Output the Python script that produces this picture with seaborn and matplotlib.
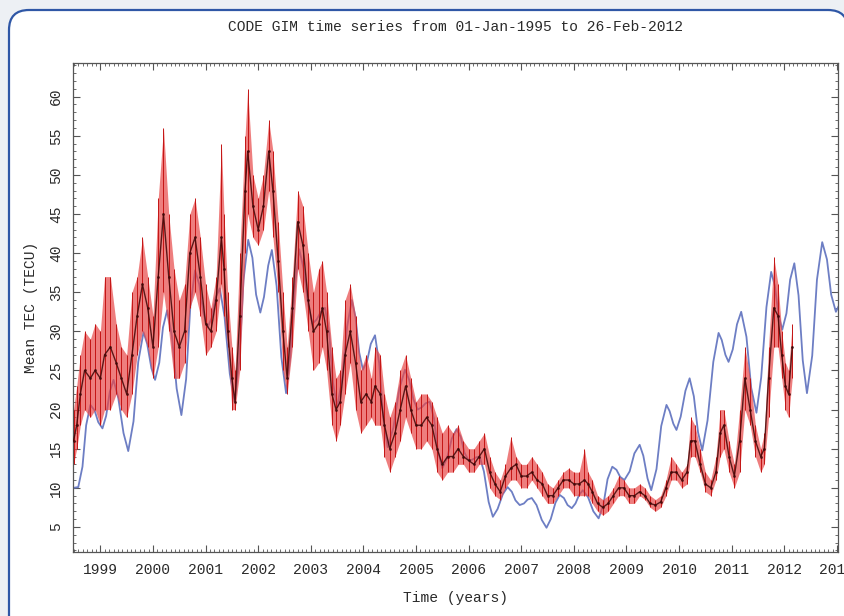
import matplotlib
matplotlib.use("Agg")
import matplotlib.pyplot as plt
import seaborn as sns
from matplotlib.patches import FancyBboxPatch
from matplotlib.ticker import MultipleLocator

# CODE GIM mean TEC: daily values shown as a band (low/high) with a dark centre line
red_t = [1998.49, 1998.55, 1998.62, 1998.70, 1998.81, 1998.90, 1999.00, 1999.08, 1999.19, 1999.30,
         1999.40, 1999.50, 1999.60, 1999.70, 1999.80, 1999.90, 2000.00, 2000.10, 2000.20, 2000.30,
         2000.40, 2000.50, 2000.60, 2000.70, 2000.80, 2000.90, 2001.00, 2001.10, 2001.20, 2001.30,
         2001.35, 2001.42, 2001.50, 2001.56, 2001.65, 2001.75, 2001.80, 2001.90, 2002.00, 2002.10,
         2002.20, 2002.28, 2002.38, 2002.47, 2002.55, 2002.65, 2002.75, 2002.85, 2002.95, 2003.05,
         2003.15, 2003.22, 2003.30, 2003.40, 2003.48, 2003.56, 2003.65, 2003.75, 2003.85, 2003.95,
         2004.05, 2004.15, 2004.22, 2004.32, 2004.40, 2004.50, 2004.60, 2004.70, 2004.80, 2004.90,
         2005.00, 2005.10, 2005.20, 2005.30, 2005.40, 2005.50, 2005.60, 2005.70, 2005.80, 2005.90,
         2006.00, 2006.10, 2006.20, 2006.30, 2006.40, 2006.50, 2006.60, 2006.70, 2006.80, 2006.90,
         2007.00, 2007.10, 2007.20, 2007.30, 2007.40, 2007.50, 2007.60, 2007.70, 2007.80, 2007.90,
         2008.00, 2008.10, 2008.20, 2008.27, 2008.35, 2008.45, 2008.55, 2008.65, 2008.75, 2008.85,
         2008.95, 2009.05, 2009.15, 2009.25, 2009.35, 2009.45, 2009.55, 2009.65, 2009.75, 2009.85,
         2009.95, 2010.05, 2010.15, 2010.22, 2010.30, 2010.40, 2010.50, 2010.60, 2010.70, 2010.78,
         2010.85, 2010.95, 2011.05, 2011.15, 2011.25, 2011.35, 2011.45, 2011.55, 2011.62, 2011.70,
         2011.80, 2011.88, 2011.95, 2012.02, 2012.08, 2012.15]
red_lo = [13, 15, 18, 20, 19, 20, 18, 20, 20, 22,
          20, 19, 22, 27, 30, 28, 24, 28, 35, 30,
          24, 24, 26, 33, 35, 32, 27, 28, 30, 36,
          32, 28, 20, 20, 25, 40, 45, 42, 41, 43,
          48, 42, 35, 25, 22, 28, 38, 35, 30, 25,
          26, 28, 25, 18, 16, 18, 22, 26, 20, 17,
          18, 19, 18, 18, 14, 12, 14, 16, 19, 17,
          15, 15, 16, 15, 12, 11, 12, 12, 13, 13,
          12, 12, 13, 13, 10, 9, 8.5, 10, 11, 11,
          10, 10, 11, 10, 9, 8, 8, 9, 10, 10,
          9, 9, 9, 9, 8, 7, 6.5, 7, 8, 9,
          9, 8, 8, 9, 8.5, 7.5, 7, 7.5, 9, 11,
          11, 10, 10.5, 14, 14, 12, 9.5, 9, 11, 14,
          15, 12, 10, 12, 20, 18, 14, 12, 13, 19,
          28, 28, 24, 20, 19, 24]
red_hi = [20, 23, 27, 30, 29, 31, 30, 37, 37, 31,
          28, 27, 35, 37, 42, 37, 32, 47, 56, 45,
          38, 34, 36, 45, 47, 42, 36, 33, 37, 54,
          45, 35, 28, 25, 40, 55, 61, 50, 47, 50,
          57, 53, 44, 35, 28, 37, 48, 46, 40, 35,
          38, 39, 35, 28, 24, 25, 34, 36, 32, 25,
          27, 24, 28, 27, 22, 19, 21, 25, 27, 24,
          21, 22, 22, 21, 19, 17, 18, 17, 18, 16,
          15, 15, 16, 17, 14, 12, 11, 13, 16.5, 14,
          13, 13, 14, 13, 12, 10.5, 10, 11, 12, 12.5,
          12, 12, 15, 12, 11, 9, 8.5, 9, 10, 11.5,
          11, 10, 10, 10.5, 10, 9, 8.5, 9, 11, 14,
          13, 12, 13, 19, 18, 15, 12, 11, 14, 20,
          20, 16, 13, 20, 28, 24, 18, 15, 17, 28,
          39.5, 36, 30, 26, 25, 31]
red_mid = [16, 18, 22, 25, 24, 25, 24, 27, 28, 26,
           24, 22, 27, 32, 36, 33, 28, 37, 45, 37,
           30, 28, 30, 40, 42, 37, 31, 30, 34, 42,
           38, 30, 24, 21, 32, 48, 53, 46, 43, 46,
           53, 48, 39, 30, 24, 33, 44, 41, 34, 30,
           31, 33, 30, 22, 20, 21, 27, 30, 26, 21,
           22, 21, 23, 22, 18, 15, 17, 20, 23, 20,
           18, 18, 19, 18, 15, 13, 14, 14, 15, 14,
           13.5, 13, 14, 15, 12, 10.5, 9.5, 11.5, 12.5, 13,
           11.5, 11.5, 12, 11, 10.5, 9, 9, 10, 11, 11,
           10.5, 10.5, 11, 10.5, 9.5, 8, 7.5, 8, 9, 10,
           10, 9, 9, 9.5, 9, 8, 7.8, 8.2, 10, 12,
           12, 11, 12, 16, 16, 13, 10.5, 10, 12, 17,
           18, 14, 11.5, 16, 24, 20, 16, 14, 15, 24,
           33, 32, 27, 23, 22, 28]

# smooth model curve (blue)
blue_t = [1998.49, 1998.58, 1998.66, 1998.73, 1998.81, 1998.89, 1998.96, 1999.04, 1999.11, 1999.18,
          1999.25, 1999.34, 1999.44, 1999.53, 1999.63, 1999.72, 1999.82, 1999.89, 1999.97, 2000.04,
          2000.12, 2000.19, 2000.27, 2000.36, 2000.45, 2000.54, 2000.63, 2000.71, 2000.80, 2000.88,
          2000.96, 2001.04, 2001.12, 2001.19, 2001.27, 2001.36, 2001.46, 2001.55, 2001.64, 2001.72,
          2001.81, 2001.89, 2001.96, 2002.04, 2002.11, 2002.19, 2002.26, 2002.35, 2002.44, 2002.53,
          2002.61, 2002.70, 2002.78, 2002.86, 2002.95, 2003.03, 2003.11, 2003.19, 2003.27, 2003.35,
          2003.42, 2003.50, 2003.59, 2003.69, 2003.78, 2003.85, 2003.92, 2003.99, 2004.07, 2004.14,
          2004.22, 2004.30, 2004.38, 2004.46, 2004.57, 2004.68, 2004.79, 2004.87, 2004.95, 2005.03,
          2005.11, 2005.18, 2005.26, 2005.34, 2005.42, 2005.50, 2005.59, 2005.68, 2005.77, 2005.85,
          2005.92, 2006.00, 2006.07, 2006.14, 2006.21, 2006.29, 2006.38, 2006.46, 2006.55, 2006.65,
          2006.74, 2006.82, 2006.89, 2006.97, 2007.05, 2007.12, 2007.20, 2007.29, 2007.39, 2007.48,
          2007.56, 2007.65, 2007.73, 2007.81, 2007.88, 2007.96, 2008.03, 2008.10, 2008.17, 2008.27,
          2008.37, 2008.47, 2008.56, 2008.64, 2008.73, 2008.81, 2008.88, 2008.96, 2009.06, 2009.15,
          2009.25, 2009.32, 2009.40, 2009.47, 2009.57, 2009.66, 2009.76, 2009.82, 2009.89, 2009.95,
          2010.03, 2010.12, 2010.20, 2010.28, 2010.36, 2010.44, 2010.54, 2010.65, 2010.75, 2010.81,
          2010.88, 2010.94, 2011.02, 2011.10, 2011.18, 2011.28, 2011.37, 2011.47, 2011.56, 2011.66,
          2011.75, 2011.82, 2011.89, 2011.96, 2012.04, 2012.11, 2012.19, 2012.27, 2012.35, 2012.43,
          2012.53, 2012.62, 2012.72, 2012.81, 2012.89, 2012.98, 2013.03]
blue_v = [10.0, 10.1, 12.7, 18.0, 20.6, 19.9, 18.4, 17.6, 19.2, 22.3,
          23.8, 21.5, 17.0, 14.7, 18.5, 26.1, 29.9, 28.4, 25.3, 23.8,
          26.0, 30.5, 32.7, 29.4, 22.7, 19.3, 23.9, 33.2, 37.8, 36.0,
          32.3, 30.5, 31.8, 34.3, 35.5, 31.9, 24.6, 21.0, 26.2, 36.5,
          41.7, 39.4, 34.7, 32.4, 34.4, 38.4, 40.4, 35.8, 26.7, 22.1,
          26.7, 35.9, 40.5, 38.1, 33.4, 31.0, 31.5, 32.5, 33.0, 29.8,
          23.5, 20.3, 23.7, 30.6, 34.0, 31.8, 27.3, 25.1, 26.2, 28.4,
          29.5, 25.9, 18.8, 15.2, 17.7, 22.6, 25.1, 23.8, 21.3, 20.0,
          20.3, 20.8, 21.0, 18.9, 14.6, 12.5, 13.8, 16.3, 17.5, 16.5,
          14.5, 13.5, 13.6, 13.9, 14.0, 12.1, 8.2, 6.3, 7.3, 9.2,
          10.1, 9.5, 8.4, 7.8, 8.0, 8.5, 8.7, 7.8, 5.9, 4.9,
          6.0, 8.1, 9.1, 8.7, 7.8, 7.4, 8.0, 9.1, 9.7, 8.8,
          7.0, 6.1, 7.8, 11.1, 12.7, 12.3, 11.4, 11.0, 12.1, 14.4,
          15.5, 14.1, 11.2, 9.7, 12.4, 17.9, 20.6, 19.8, 18.2, 17.4,
          19.1, 22.4, 24.0, 21.7, 17.1, 14.8, 18.6, 26.1, 29.8, 28.9,
          27.0, 26.1, 27.7, 30.9, 32.5, 29.3, 22.8, 19.6, 24.1, 33.1,
          37.6, 35.8, 32.1, 30.2, 32.3, 36.6, 38.7, 34.6, 26.3, 22.1,
          26.9, 36.6, 41.4, 39.2, 34.7, 32.5, 33.2]

year_ticks = list(range(1999, 2014))
tec_ticks = list(range(5, 65, 5))

sns.set_style("ticks")
plt.rcParams['font.family'] = ['Liberation Mono', 'DejaVu Sans Mono']
text_color = '#2a2a2a'

fig = plt.figure(figsize=(8.45, 6.16), dpi=100)
fig.patch.set_facecolor('#edf0f4')
# rounded white panel with blue border, kept behind the axes
panel = FancyBboxPatch((0.09, -0.6), 8.39, 6.66, boxstyle="round,pad=0,rounding_size=0.2",
                       transform=fig.dpi_scale_trans, facecolor='white',
                       edgecolor='#2f57a6', linewidth=1.6, zorder=-10)
fig.patches.append(panel)

ax = fig.add_axes([73 / 845, 1 - 552 / 616, (838 - 73) / 845, (552 - 63) / 616])
ax.set_zorder(5)
ax.set_facecolor('white')

sns.lineplot(x=blue_t, y=blue_v, estimator=None, color='#6d7ec4', linewidth=1.3, ax=ax, zorder=2)
ax.fill_between(red_t, red_lo, red_hi, color='#e84848', alpha=0.7, linewidth=0, zorder=3)
ax.vlines(red_t, red_lo, red_hi, color='#c41414', linewidth=0.7, zorder=4)
sns.lineplot(x=red_t, y=red_mid, estimator=None, color='#3e0606', linewidth=1.0, alpha=0.85,
             marker='o', markersize=2, markeredgewidth=0, ax=ax, zorder=5)

ax.set_xlim(1998.48, 2013.02)
ax.set_ylim(1.8, 64.3)
ax.set_xticks(year_ticks)
ax.set_xticklabels([str(y) for y in year_ticks])
ax.set_yticks(tec_ticks)
ax.set_yticklabels([str(v) for v in tec_ticks], rotation=90, va='center')
ax.xaxis.set_minor_locator(MultipleLocator(1 / 12))
ax.yaxis.set_minor_locator(MultipleLocator(1))
ax.tick_params(which='both', direction='in', top=True, right=True, colors='#555555',
               labelcolor=text_color, labelsize=10.5)
ax.tick_params(which='major', length=5, width=0.8)
ax.tick_params(which='minor', length=2.5, width=0.6)
ax.tick_params(axis='x', pad=8)
ax.tick_params(axis='y', pad=7)
for s in ax.spines.values():
    s.set_color('#555555')
    s.set_linewidth(0.9)

ax.set_xlabel('Time (years)', fontsize=10.5, color=text_color, labelpad=10)
ax.set_ylabel('Mean TEC (TECU)', fontsize=10.5, color=text_color, labelpad=8)
ax.set_title('CODE GIM time series from 01-Jan-1995 to 26-Feb-2012', fontsize=10.5,
             color=text_color, pad=23)

fig.savefig('out.png', dpi=100, facecolor=fig.get_facecolor())
